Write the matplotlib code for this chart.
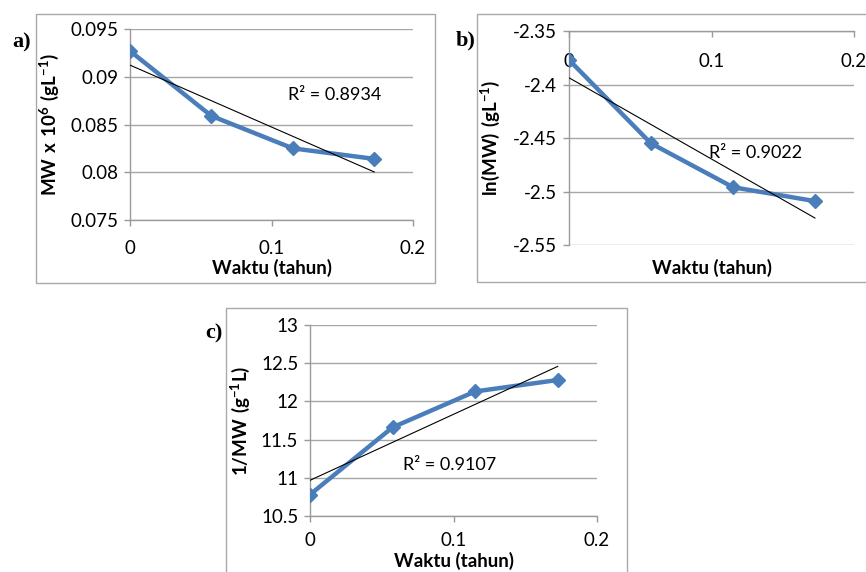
import numpy as np
import matplotlib
matplotlib.use("Agg")
import matplotlib.pyplot as plt
from matplotlib.patches import Rectangle

plt.rcParams['font.family'] = ['Lato', 'DejaVu Sans']
plt.rcParams['mathtext.fontset'] = 'custom'
plt.rcParams['mathtext.rm'] = 'Lato'
plt.rcParams['mathtext.bf'] = 'Lato:bold'

# waktu (tahun): 0, 3, 6, 9 minggu
waktu = [0, 0.0575, 0.1151, 0.1726]

mw = [0.0927, 0.0859, 0.0825, 0.0814]
ln_mw = [-2.377, -2.455, -2.496, -2.509]
inv_mw = [10.78, 11.66, 12.13, 12.28]

r2_labels = ["R² = 0.8934", "R² = 0.9022", "R² = 0.9107"]
xticks = [0, 0.1, 0.2]

W, H = 866, 572
blue = '#4a7ebb'
grid_c = '#a6a6a6'
axis_c = '#9a9a9a'
box_c = '#a9a9a9'

fig = plt.figure(figsize=(W / 100, H / 100), dpi=100)


def px_axes(x0, y0, x1, y1):
    return fig.add_axes([x0 / W, 1 - y1 / H, (x1 - x0) / W, (y1 - y0) / H])


def px_box(x0, y0, x1, y1):
    fig.patches.append(Rectangle((x0 / W, 1 - y1 / H), (x1 - x0) / W, (y1 - y0) / H,
                                 transform=fig.transFigure, fill=False,
                                 edgecolor=box_c, lw=1.0, zorder=0))


def panel(ax, y, ylim, yticks, yfmt, ylabel, r2, r2_pos, xpad=10):
    ax.plot(waktu, y, color=blue, lw=3.2, marker='D', ms=7.5, zorder=3,
            solid_joinstyle='round')
    k, c = np.polyfit(waktu, y, 1)
    xs = np.array([waktu[0], waktu[-1]])
    ax.plot(xs, k * xs + c, color='black', lw=0.8, zorder=4)
    ax.set_xlim(0, 0.2)
    ax.set_ylim(*ylim)
    ax.set_xticks(xticks)
    ax.set_xticklabels(['0', '0.1', '0.2'])
    ax.set_yticks(yticks)
    ax.set_yticklabels([yfmt(v) for v in yticks])
    ax.grid(axis='y', color=grid_c, lw=1.0)
    ax.set_axisbelow(True)
    for s in ['top', 'right']:
        ax.spines[s].set_visible(False)
    for s in ['left', 'bottom']:
        ax.spines[s].set_color(axis_c)
        ax.spines[s].set_linewidth(1.0)
    ax.tick_params(axis='both', colors=axis_c, labelcolor='black',
                   labelsize=13.5, length=4.5, width=1.0)
    ax.tick_params(axis='y', pad=4)
    ax.tick_params(axis='x', pad=xpad)
    ax.set_ylabel(ylabel, fontsize=13.5, fontweight='bold')
    ax.set_xlabel('Waktu (tahun)', fontsize=13.5, fontweight='bold')
    ax.text(r2_pos[0], r2_pos[1], r2, fontsize=13, va='center', ha='left')


# a)
px_box(36, 14, 435, 283)
ax1 = px_axes(130, 29, 413, 220)
panel(ax1, mw, (0.075, 0.095), [0.075, 0.08, 0.085, 0.09, 0.095],
      lambda v: ('%.3f' % v).rstrip('0'),
      r'$\mathbf{MW\ x\ 10^{6}\ (gL^{-1})}$', r2_labels[0], (0.112, 0.0881))
ax1.yaxis.set_label_coords(-0.244, 0.5)
ax1.xaxis.set_label_coords(0.5, -0.204)
fig.text(12 / W, 1 - 42 / H, 'a)', family='Liberation Serif', fontweight='bold',
         fontsize=16, va='center', ha='left')

# b) - sumbu x di atas (nilai negatif)
px_box(477, 14, 900, 282)
ax2 = px_axes(569, 31, 854, 245)
panel(ax2, ln_mw, (-2.55, -2.35), [-2.55, -2.5, -2.45, -2.4, -2.35],
      lambda v: ('%.2f' % v).rstrip('0'),
      r'$\mathbf{ln(MW)\ (gL^{-1})}$', r2_labels[1], (0.098, -2.464), xpad=11)
ax2.spines['bottom'].set_position(('axes', 1.0))
ax2.yaxis.set_label_coords(-0.235, 0.5)
ax2.xaxis.set_label_coords(0.5, -0.065)
fig.text(456 / W, 1 - 40 / H, 'b)', family='Liberation Serif', fontweight='bold',
         fontsize=16, va='center', ha='left')

# c)
px_box(226, 308, 627, 600)
ax3 = px_axes(310, 325, 597, 516)
panel(ax3, inv_mw, (10.5, 13), [10.5, 11, 11.5, 12, 12.5, 13],
      lambda v: ('%.1f' % v).rstrip('0').rstrip('.'),
      r'$\mathbf{1/MW\ (g^{-1}L)}$', r2_labels[2], (0.0647, 11.165), xpad=7)
ax3.yaxis.set_label_coords(-0.202, 0.5)
ax3.xaxis.set_label_coords(0.5, -0.19)
fig.text(205 / W, 1 - 333 / H, 'c)', family='Liberation Serif', fontweight='bold',
         fontsize=16, va='center', ha='left')

fig.savefig('out.png', dpi=100)
